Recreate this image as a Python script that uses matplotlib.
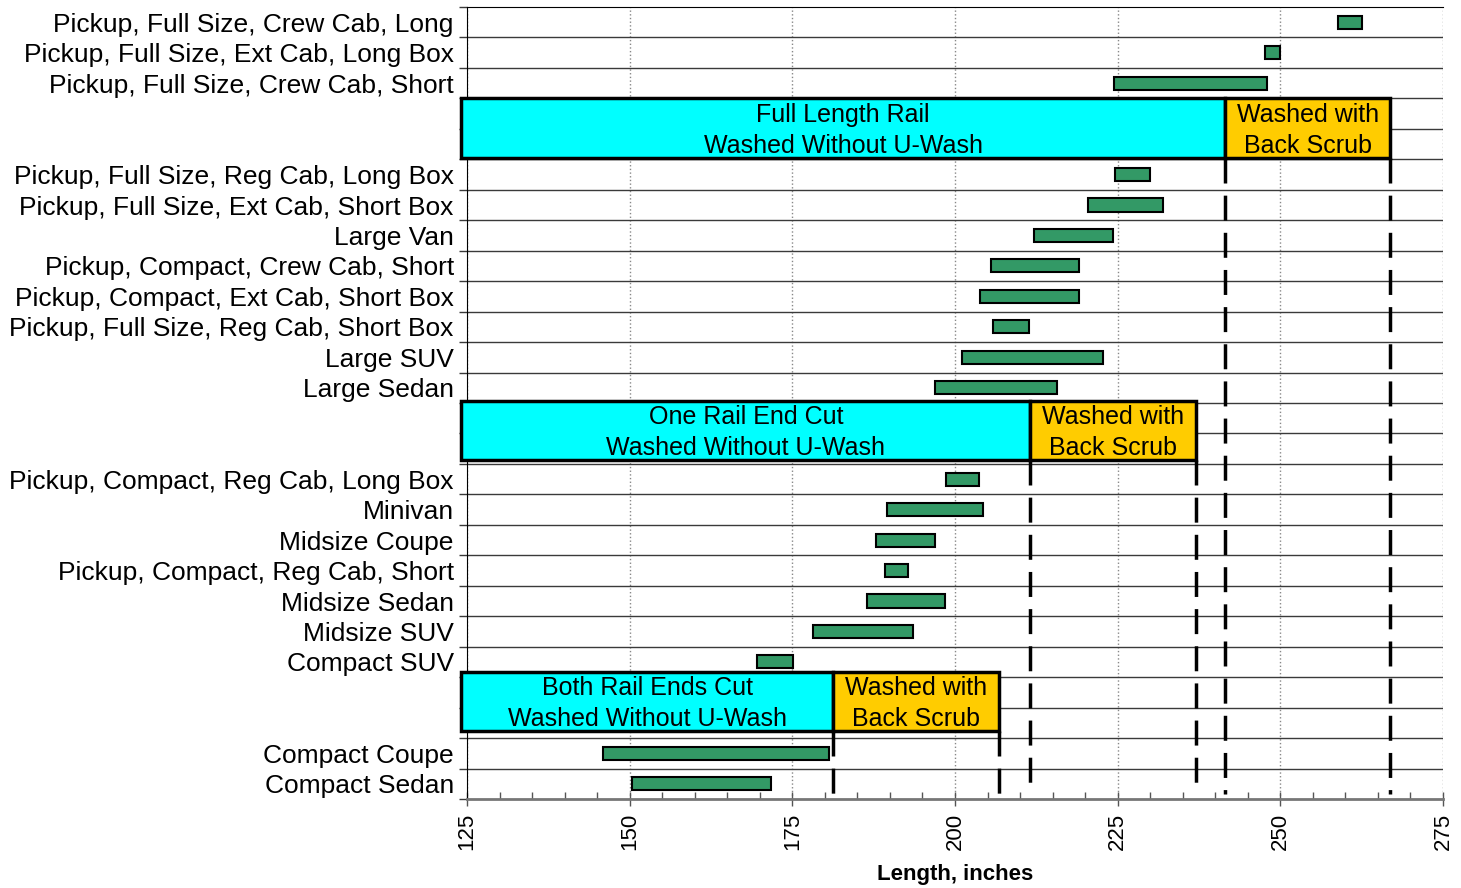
import numpy as np
import matplotlib
matplotlib.use("Agg")
import matplotlib.pyplot as plt
from matplotlib.patches import Rectangle
from matplotlib.ticker import MultipleLocator, FixedLocator, NullFormatter

plt.rcParams['font.family'] = ['Liberation Sans', 'DejaVu Sans']

# vehicles, top to bottom
vehicles = ["Pickup, Full Size, Crew Cab, Long", "Pickup, Full Size, Ext Cab, Long Box",
            "Pickup, Full Size, Crew Cab, Short", "Pickup, Full Size, Reg Cab, Long Box",
            "Pickup, Full Size, Ext Cab, Short Box", "Large Van", "Pickup, Compact, Crew Cab, Short",
            "Pickup, Compact, Ext Cab, Short Box", "Pickup, Full Size, Reg Cab, Short Box",
            "Large SUV", "Large Sedan", "Pickup, Compact, Reg Cab, Long Box", "Minivan",
            "Midsize Coupe", "Pickup, Compact, Reg Cab, Short", "Midsize Sedan", "Midsize SUV",
            "Compact SUV", "Compact Coupe", "Compact Sedan"]
len_min = [258.8, 247.7, 224.4, 224.6, 220.5, 212.2, 205.6, 203.8, 205.8, 201.0,
           197.0, 198.6, 189.5, 187.8, 189.2, 186.4, 178.1, 169.5, 145.9, 150.3]
len_max = [262.6, 249.9, 248.0, 230.0, 232.0, 224.3, 219.0, 219.0, 211.4, 222.7,
           215.6, 203.7, 204.3, 196.9, 192.7, 198.5, 193.6, 175.1, 180.7, 171.7]

# wash boxes: each takes two rows
box_rows = [3, 13, 22]
box_titles = ["Full Length Rail", "One Rail End Cut", "Both Rail Ends Cut"]
box_split = [241.5, 211.6, 181.3]
box_end = [266.9, 237.1, 206.8]
box_left = 124.1
box_shift = [0.0, -0.08, -0.18]   # boxes sit a touch above their rows
n_rows = 26

# row for each vehicle, skipping the box rows
taken = set()
for r in box_rows:
    taken.update([r, r + 1])
veh_rows = [r for r in range(n_rows) if r not in taken]

fig = plt.figure(figsize=(14.61, 8.88), dpi=100)
ax = fig.add_axes([467 / 1461, 1 - 799 / 888, (1443 - 467) / 1461, (799 - 7) / 888])
ax.set_xlim(125, 275)
ax.set_ylim(n_rows, 0)

# row lines
ax.hlines(np.arange(1, n_rows), 125, 275, color='#3a3a3a', lw=1, zorder=1)
ax.xaxis.grid(True, linestyle=':', color='#888888', lw=1, zorder=0)
ax.set_axisbelow(True)

# bars
bar_h = 0.43
for r, lo, hi in zip(veh_rows, len_min, len_max):
    ax.add_patch(Rectangle((lo, r + 0.5 - bar_h / 2), hi - lo, bar_h,
                           facecolor='#339966', edgecolor='black', lw=1.5, zorder=3))

# boxes + dashed lines
for r, title, sp, en, sh in zip(box_rows, box_titles, box_split, box_end, box_shift):
    y0 = r + sh
    ax.add_patch(Rectangle((box_left, y0), sp - box_left, 1.96, facecolor='#00ffff',
                           edgecolor='black', lw=2.5, zorder=4, clip_on=False))
    ax.add_patch(Rectangle((sp, y0), en - sp, 1.96, facecolor='#ffcc00',
                           edgecolor='black', lw=2.5, zorder=4, clip_on=False))
    ax.text((box_left + sp) / 2, y0 + 1.05, title + "\nWashed Without U-Wash",
            ha='center', va='center', fontsize=18, zorder=5, linespacing=1.35)
    ax.text((sp + en) / 2, y0 + 1.05, "Washed with\nBack Scrub",
            ha='center', va='center', fontsize=18, zorder=5, linespacing=1.35)
    for xv in (sp, en):
        ax.plot([xv, xv], [y0 + 1.96, n_rows - 0.15], color='black', lw=2.5,
                dashes=(7.2, 3.5), zorder=4)

# y ticks: marks at row boundaries, labels at row centers
ax.yaxis.set_major_locator(FixedLocator(np.arange(0, n_rows + 1)))
ax.yaxis.set_major_formatter(NullFormatter())
ax.yaxis.set_minor_locator(FixedLocator([r + 0.5 for r in veh_rows]))
ax.set_yticklabels(vehicles, minor=True)
ax.tick_params(axis='y', which='major', length=6, width=1, color='#3a3a3a')
ax.tick_params(axis='y', which='minor', length=0, pad=9.5, labelsize=19)

# x ticks
ax.xaxis.set_major_locator(MultipleLocator(25))
ax.xaxis.set_minor_locator(MultipleLocator(5))
ax.tick_params(axis='x', which='major', direction='inout', length=10, width=1,
               color='#555555', labelsize=16, labelrotation=90, pad=5)
ax.tick_params(axis='x', which='minor', direction='in', length=5, width=1, color='#555555')
ax.set_xlabel("Length, inches", fontsize=16, fontweight='bold', labelpad=10)

ax.spines['right'].set_visible(False)
ax.spines['left'].set_color('black')
ax.spines['top'].set_color('black')
ax.spines['bottom'].set_color('#777777')
ax.spines['bottom'].set_linewidth(2)

fig.savefig("out.png", dpi=100)
